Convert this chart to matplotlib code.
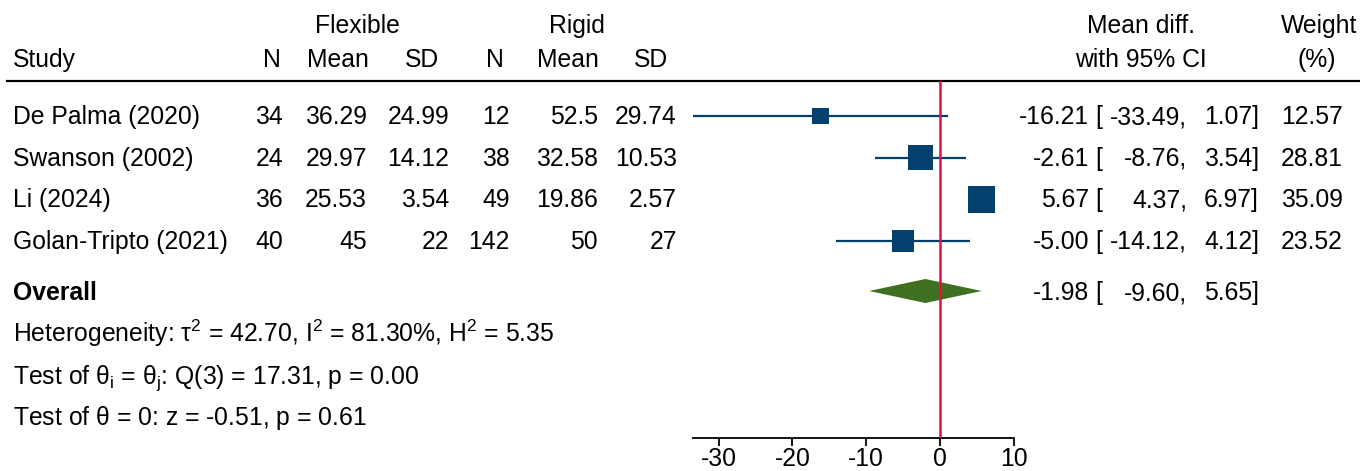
import numpy as np
import matplotlib
matplotlib.use("Agg")
import matplotlib.pyplot as plt

plt.rcParams['font.family'] = ['Liberation Sans', 'DejaVu Sans']
plt.rcParams['mathtext.fontset'] = 'custom'
plt.rcParams['mathtext.rm'] = 'Liberation Sans'
plt.rcParams['mathtext.it'] = 'Liberation Sans:italic'
plt.rcParams['mathtext.bf'] = 'Liberation Sans:bold'
plt.rcParams['axes.unicode_minus'] = False

# ---------------- data ----------------
studies = ["De Palma (2020)", "Swanson (2002)", "Li (2024)", "Golan-Tripto (2021)"]
flex_n = ["34", "24", "36", "40"]
flex_mean = ["36.29", "29.97", "25.53", "45"]
flex_sd = ["24.99", "14.12", "3.54", "22"]
rigid_n = ["12", "38", "49", "142"]
rigid_mean = ["52.5", "32.58", "19.86", "50"]
rigid_sd = ["29.74", "10.53", "2.57", "27"]
mean_diff = [-16.21, -2.61, 5.67, -5.00]
ci_low = [-33.49, -8.76, 4.37, -14.12]
ci_high = [1.07, 3.54, 6.97, 4.12]
weights = [12.57, 28.81, 35.09, 23.52]
overall = -1.98
overall_low = -9.60
overall_high = 5.65
xticks = [-30, -20, -10, 0, 10]
het_lines = [
    r"Heterogeneity: $\mathrm{\tau^2}$ = 42.70, $\mathrm{I^2}$ = 81.30%, $\mathrm{H^2}$ = 5.35",
    r"Test of $\mathrm{\theta_i}$ = $\mathrm{\theta_j}$: Q(3) = 17.31, p = 0.00",
    r"Test of $\mathrm{\theta}$ = 0: z = -0.51, p = 0.61",
]

# ---------------- layout ----------------
W, H = 1360, 471
FS = 17.8
navy = "#03406e"
green = "#3f701f"
red = "#e60f45"

fig = plt.figure(figsize=(W / 100, H / 100), dpi=100)
ov = fig.add_axes([0, 0, 1, 1])
ov.set_xlim(0, W)
ov.set_ylim(H, 0)
ov.axis('off')

# forest axes geometry (pixels)
px_per_unit = 7.38
x0_px = 940.0
ax_left_px = x0_px + min(ci_low) * px_per_unit
ax_right_px = x0_px + xticks[-1] * px_per_unit
ax_top_px, ax_bot_px = 81.0, 438.0
row_px0, row_step = 116.0, 41.6
ax = fig.add_axes([ax_left_px / W, (H - ax_bot_px) / H,
                   (ax_right_px - ax_left_px) / W, (ax_bot_px - ax_top_px) / H])
ax.patch.set_alpha(0)
ax.set_xlim(min(ci_low), xticks[-1])
ylo = (ax_top_px - row_px0) / row_step
yhi = (ax_bot_px - row_px0) / row_step
ax.set_ylim(yhi, ylo)
for s in ['top', 'left', 'right']:
    ax.spines[s].set_visible(False)
ax.spines['bottom'].set_linewidth(1.3)
ax.set_yticks([])
ax.set_xticks(xticks)
ax.tick_params(axis='x', direction='out', length=6, width=1.3, labelsize=FS, pad=0.5)

rows = np.arange(len(studies))
overall_row = (291 - row_px0) / row_step

ax.hlines(rows, ci_low, ci_high, color=navy, lw=1.6, zorder=2)
side_pt = 4.6 * np.sqrt(np.array(weights)) * 0.72
ax.scatter(mean_diff, rows, marker='s', s=side_pt ** 2, color=navy,
           edgecolors='none', zorder=3)
dh = 12 / row_step
ax.fill([overall_low, overall, overall_high, overall],
        [overall_row, overall_row - dh, overall_row, overall_row + dh],
        color=green, lw=0, zorder=3)
ax.axvline(0, color=red, lw=1.8, zorder=4)

# ---------------- text table ----------------
def t(x, y, s, ha='left', **kw):
    ov.text(x, y, s, ha=ha, va='baseline', fontsize=FS, color='black', **kw)

# headers
t(357, 33, "Flexible", ha='center')
t(577, 33, "Rigid", ha='center')
t(1141, 33, "Mean diff.", ha='center')
t(1319, 33, "Weight", ha='center')
t(13, 67, "Study")
for xc, lab in zip([272, 338, 422, 495, 568, 651], ["N", "Mean", "SD", "N", "Mean", "SD"]):
    t(xc, 67, lab, ha='center')
t(1141, 67, "with 95% CI", ha='center')
t(1317, 67, "(%)", ha='center')
ov.plot([7, W], [81, 81], color='black', lw=1.6)

col_right = [283, 367, 449, 510, 598, 677]
for i, name in enumerate(studies):
    yb = row_px0 + i * row_step + 8
    t(13, yb, name)
    vals = [flex_n[i], flex_mean[i], flex_sd[i], rigid_n[i], rigid_mean[i], rigid_sd[i]]
    for xr, v in zip(col_right, vals):
        t(xr, yb, v, ha='right')
    t(1089, yb, f"{mean_diff[i]:.2f}", ha='right')
    t(1095, yb, "[")
    t(1187, yb, f"{ci_low[i]:.2f},", ha='right')
    t(1259, yb, f"{ci_high[i]:.2f}]", ha='right')
    t(1343, yb, f"{weights[i]:.2f}", ha='right')

yb = 291 + 9
t(13, yb, "Overall", fontweight='bold')
t(1089, yb, f"{overall:.2f}", ha='right')
t(1095, yb, "[")
t(1187, yb, f"{overall_low:.2f},", ha='right')
t(1259, yb, f"{overall_high:.2f}]", ha='right')

for j, line in enumerate(het_lines):
    t(13, 342 + j * 41.5, line)

fig.savefig("out.png", dpi=100)
